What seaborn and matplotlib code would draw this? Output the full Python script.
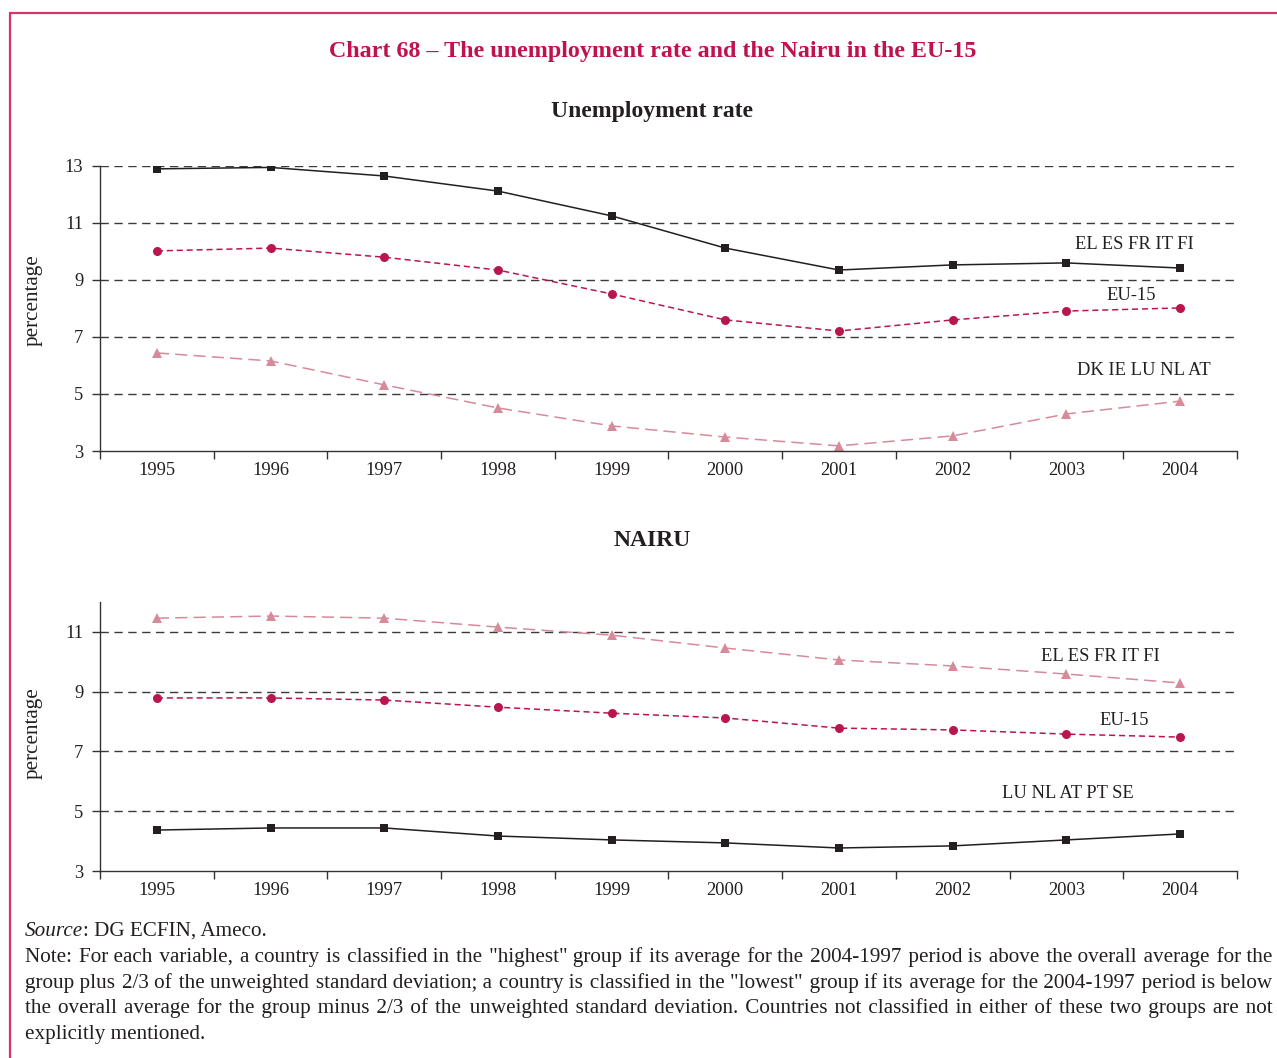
import math
import matplotlib
matplotlib.use("Agg")
import matplotlib.pyplot as plt
from matplotlib.lines import Line2D
import seaborn as sns
import pandas as pd

# ---- data -------------------------------------------------------------
years = [1995, 1996, 1997, 1998, 1999, 2000, 2001, 2002, 2003, 2004]

ur_high = [12.90, 12.95, 12.65, 12.12, 11.25, 10.12, 9.35, 9.53, 9.60, 9.42]
ur_eu15 = [10.02, 10.12, 9.80, 9.35, 8.51, 7.60, 7.21, 7.60, 7.91, 8.02]
ur_low = [6.44, 6.16, 5.32, 4.51, 3.88, 3.49, 3.18, 3.53, 4.30, 4.75]

nairu_high = [11.46, 11.53, 11.46, 11.16, 10.89, 10.46, 10.06, 9.86, 9.59, 9.29]
nairu_eu15 = [8.79, 8.79, 8.72, 8.48, 8.28, 8.12, 7.78, 7.72, 7.58, 7.48]
nairu_low = [4.37, 4.44, 4.44, 4.17, 4.04, 3.94, 3.77, 3.84, 4.04, 4.24]

ur_groups = ["EL ES FR IT FI", "EU-15", "DK IE LU NL AT"]
nairu_groups = ["LU NL AT PT SE", "EU-15", "EL ES FR IT FI"]

ur_ticks = [3, 5, 7, 9, 11, 13]
nairu_ticks = [3, 5, 7, 9, 11]

# ---- style ------------------------------------------------------------
sns.set_theme(style="white")
plt.rcParams["font.family"] = ["Liberation Serif", "DejaVu Serif"]

W, H = 1277, 1058
fig = plt.figure(figsize=(W / 100, H / 100), dpi=100)

CRIMSON = "#C0124F"
BLACK = "#231F20"
EU_COL = "#B8174E"
PINK = "#D78A9A"
GRID = "#3a3a3a"
TICK_FS = 13.3


def fx(px):
    return px / W


def fy(py):
    return 1 - py / H


def make_axes(top, bottom):
    return fig.add_axes([fx(100), fy(bottom), fx(1237) - fx(100), fy(top) - fy(bottom)])


SOLID = dict(color=BLACK, marker="s", markersize=6, linewidth=1.1,
             markeredgewidth=0, linestyle="-")
SHORT = dict(color=EU_COL, marker="o", markersize=6.5, linewidth=1.1,
             markeredgewidth=0, linestyle=(0, (4, 2.5)))
LONG = dict(color=PINK, marker="^", markersize=7.5, linewidth=1.1,
            markeredgewidth=0, linestyle=(0, (8, 4)))


def draw_panel(ax, series, ticks, ylim):
    for values, kws in series:
        df = pd.DataFrame({"year": years, "value": values})
        sns.lineplot(data=df, x="year", y="value", ax=ax, **kws)
    ax.set_xlim(years[0] - 0.5, years[-1] + 0.5)
    ax.set_ylim(*ylim)
    ax.set_yticks(ticks)
    ax.set_yticklabels([str(t) for t in ticks], fontsize=TICK_FS, color=BLACK)
    ax.set_xticks(years)
    ax.set_xticklabels([str(y) for y in years], fontsize=TICK_FS, color=BLACK)
    ax.set_xticks([y - 0.5 for y in years] + [years[-1] + 0.5], minor=True)
    ax.tick_params(axis="x", which="major", length=0, pad=8)
    ax.tick_params(axis="x", which="minor", length=6, width=1, color="#333333",
                   direction="out", bottom=True)
    ax.tick_params(axis="y", which="major", length=6, width=1, color="#333333",
                   direction="out", left=True, pad=6)
    for t in ticks[1:]:
        ax.axhline(t, color=GRID, linewidth=1, linestyle=(0, (6, 4)), zorder=0)
    for side in ("top", "right"):
        ax.spines[side].set_visible(False)
    for side in ("left", "bottom"):
        ax.spines[side].set_color("#333333")
        ax.spines[side].set_linewidth(1)
    ax.set_xlabel("")
    ax.set_ylabel("")
    ax.grid(False)


# ---- unemployment rate -------------------------------------------------
ax1 = make_axes(166, 451)
draw_panel(ax1, [(ur_high, SOLID), (ur_eu15, SHORT), (ur_low, LONG)],
           ur_ticks, (3, 13))
lab_kw = dict(fontsize=TICK_FS, color=BLACK, ha="center", va="center")
ax1.text(2003.6, 10.26, ur_groups[0], **lab_kw)
ax1.text(2003.57, 8.44, ur_groups[1], **lab_kw)
ax1.text(2003.68, 5.84, ur_groups[2], **lab_kw)

# ---- NAIRU --------------------------------------------------------------
ax2 = make_axes(602, 871)
draw_panel(ax2, [(nairu_low, SOLID), (nairu_eu15, SHORT), (nairu_high, LONG)],
           nairu_ticks, (3, 12))
ax2.text(2003.01, 5.58, nairu_groups[0], **lab_kw)
ax2.text(2003.51, 8.02, nairu_groups[1], **lab_kw)
ax2.text(2003.3, 10.16, nairu_groups[2], **lab_kw)

# ---- titles and axis captions ------------------------------------------
fig.text(fx(653), fy(52), "Chart 68 \u2013 The unemployment rate and the Nairu in the EU-15",
         fontsize=17.3, fontweight="bold", color=CRIMSON, ha="center", va="center")
fig.text(fx(652), fy(112), "Unemployment rate", fontsize=17, fontweight="bold",
         color=BLACK, ha="center", va="center")
fig.text(fx(652), fy(541), "NAIRU", fontsize=17, fontweight="bold",
         color=BLACK, ha="center", va="center")
for cy in (300, 733):
    fig.text(fx(33), fy(cy), "percentage", fontsize=15.2, color=BLACK,
             rotation=90, ha="center", va="center")

# ---- frame --------------------------------------------------------------
fig.add_artist(Line2D([fx(10), fx(10)], [0, fy(13)], color="#D6336F", linewidth=1.6))
fig.add_artist(Line2D([fx(10), 1], [fy(13), fy(13)], color="#D6336F", linewidth=1.6))

# ---- source and note ----------------------------------------------------
NOTE_FS = 15.2
fig.canvas.draw()
renderer = fig.canvas.get_renderer()


def width(s):
    t = fig.text(0, 0, s, fontsize=NOTE_FS)
    w = t.get_window_extent(renderer).width
    t.remove()
    return w


src1 = fig.text(fx(25), fy(936), "Source", fontsize=NOTE_FS, style="italic",
                color=BLACK, ha="left", va="baseline")
bb = src1.get_window_extent(renderer)
fig.text(bb.x1 / W, fy(936), ": DG ECFIN, Ameco.", fontsize=NOTE_FS,
         color=BLACK, ha="left", va="baseline")

note_lines = [
    'Note: For each variable, a country is classified in the "highest" group if its average for the 2004-1997 period is above the overall average for the',
    'group plus 2/3 of the unweighted standard deviation; a country is classified in the "lowest" group if its average for the 2004-1997 period is below',
    'the overall average for the group minus 2/3 of the unweighted standard deviation. Countries not classified in either of these two groups are not',
    'explicitly mentioned.',
]
baselines = [962, 988, 1013, 1039]
x_left, x_right = 25, 1273

# widths of a normal space and a hair space, used to pad the word gaps
base = width("aa")
SPACE = (width("a" + " " * 20 + "a") - base) / 20
HAIR_CH = "\u200a"
HAIR = (width("a" + HAIR_CH * 20 + "a") - base) / 20
if HAIR < 0.3:
    HAIR_CH = "\u2009"
    HAIR = (width("a" + HAIR_CH * 20 + "a") - base) / 20


def justify(line):
    words = line.split(" ")
    ws = [width(w) for w in words]
    gap = (x_right - x_left - sum(ws)) / (len(words) - 1)
    starts = []
    x = 0.0
    for w in ws:
        starts.append(x)
        x += w + gap
    built = words[0]
    for i in range(1, len(words)):
        need = starts[i] - width(built)
        n_sp = max(1, int(math.floor(need / SPACE)))
        rem = need - n_sp * SPACE
        n_hair = max(0, int(round(rem / HAIR))) if HAIR > 0.3 else 0
        built += " " * n_sp + HAIR_CH * n_hair + words[i]
    return built


for i, (line, py) in enumerate(zip(note_lines, baselines)):
    s = line if i == len(note_lines) - 1 else justify(line)
    fig.text(fx(x_left), fy(py), s, fontsize=NOTE_FS, color=BLACK,
             ha="left", va="baseline")

fig.savefig("out.png", dpi=100)
